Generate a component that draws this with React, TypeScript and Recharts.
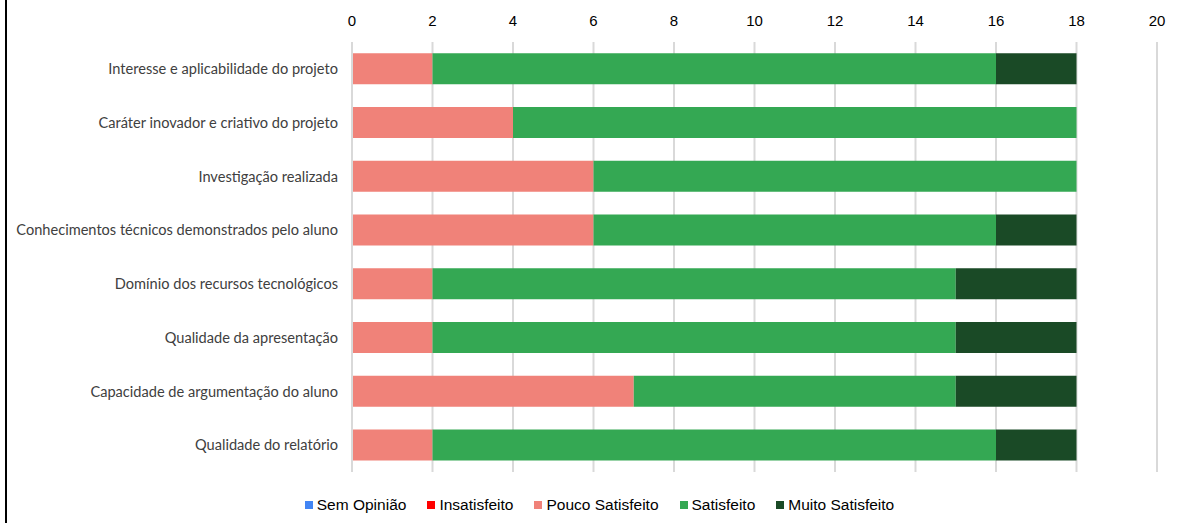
import React from "react";
import { BarChart, Bar, XAxis, YAxis, CartesianGrid, Legend } from "recharts";

const categories = [
  "Interesse e aplicabilidade do projeto",
  "Caráter inovador e criativo do projeto",
  "Investigação realizada",
  "Conhecimentos técnicos demonstrados pelo aluno",
  "Domínio dos recursos tecnológicos",
  "Qualidade da apresentação",
  "Capacidade de argumentação do aluno",
  "Qualidade do relatório",
];
const semOpiniao = [0, 0, 0, 0, 0, 0, 0, 0];
const insatisfeito = [0, 0, 0, 0, 0, 0, 0, 0];
const poucoSatisfeito = [2, 4, 6, 6, 2, 2, 7, 2];
const satisfeito = [14, 14, 12, 10, 13, 13, 8, 14];
const muitoSatisfeito = [2, 0, 0, 2, 3, 3, 3, 2];
const xTicks = [0, 2, 4, 6, 8, 10, 12, 14, 16, 18, 20];

const seriesNames = ["Sem Opinião", "Insatisfeito", "Pouco Satisfeito", "Satisfeito", "Muito Satisfeito"];
const seriesKeys = ["sem", "ins", "pouco", "sat", "muito"];
const seriesColors = ["#4285F4", "#FF0000", "#F08279", "#34A853", "#1A4A26"];

const data = categories.map((c, i) => ({
  name: c,
  sem: semOpiniao[i],
  ins: insatisfeito[i],
  pouco: poucoSatisfeito[i],
  sat: satisfeito[i],
  muito: muitoSatisfeito[i],
}));

const LegendContent = () => (
  <div
    style={{
      height: 20,
      display: "flex",
      justifyContent: "center",
      alignItems: "center",
      paddingLeft: 42,
      fontFamily: "Liberation Sans, Arial, sans-serif",
      fontSize: 15.5,
      color: "#000",
    }}
  >
    {seriesNames.map((n, i) => (
      <div key={n} style={{ display: "flex", alignItems: "center", marginRight: i < seriesNames.length - 1 ? 21 : 0 }}>
        <span style={{ display: "inline-block", width: 8, height: 8, background: seriesColors[i], marginRight: 4 }} />
        <span>{n}</span>
      </div>
    ))}
  </div>
);

export default function App() {
  return (
    <div style={{ position: "absolute", left: 0, top: 0, width: 1182, height: 523, background: "#fff" }}>
      <div style={{ position: "absolute", left: 5, top: 0, width: 2, height: 523, background: "#000" }} />
      <BarChart
        width={1182}
        height={523}
        data={data}
        layout="vertical"
        margin={{ top: 12, right: 25, bottom: 31, left: 0 }}
        barCategoryGap="21%"
      >
        <CartesianGrid horizontal={false} vertical={true} stroke="#d9d9d9" strokeWidth={2} />
        <XAxis
          type="number"
          orientation="top"
          domain={[0, 20]}
          ticks={xTicks}
          height={30}
          axisLine={false}
          tickLine={false}
          tickMargin={10}
          tick={{ fill: "#000", fontSize: 15, fontFamily: "Liberation Sans, Arial, sans-serif" }}
          interval={0}
        />
        <YAxis
          type="category"
          dataKey="name"
          width={352}
          axisLine={{ stroke: "#d9d9d9", strokeWidth: 2 }}
          tickLine={false}
          tickMargin={8}
          tick={{ fill: "#404040", fontSize: 14.6, fontFamily: "Lato, Carlito, Calibri, sans-serif" }}
          interval={0}
        />
        <Legend verticalAlign="bottom" content={<LegendContent />} wrapperStyle={{ bottom: 8 }} />
        {seriesKeys.map((k, i) => (
          <Bar key={k} dataKey={k} name={seriesNames[i]} stackId="a" fill={seriesColors[i]} isAnimationActive={false} />
        ))}
      </BarChart>
    </div>
  );
}
